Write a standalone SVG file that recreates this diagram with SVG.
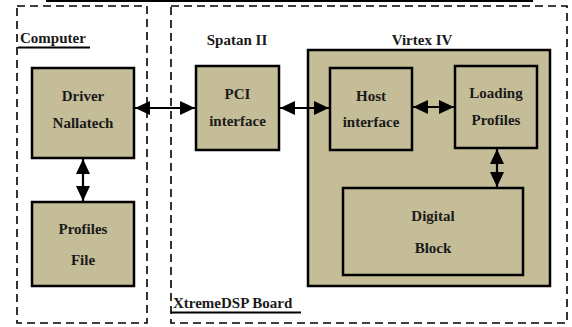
<svg xmlns="http://www.w3.org/2000/svg" width="572" height="327" viewBox="0 0 572 327">
<style>
.dash{fill:none;stroke:#000;stroke-width:1.6;stroke-dasharray:8 5}
.box{fill:#c4bd97;stroke:#000;stroke-width:2.5}
.t{font-family:"Liberation Serif",serif;font-weight:bold;font-size:15px;fill:#1a1a1a;text-anchor:middle}
.lbl{font-family:"Liberation Serif",serif;font-weight:bold;font-size:15px;fill:#1a1a1a}
.ul{stroke:#000;stroke-width:2}
.arr{stroke:#000;stroke-width:2.2;fill:none;marker-start:url(#ah);marker-end:url(#ah)}
</style>
<defs>
<marker id="ah" viewBox="0 0 15 14" refX="15" refY="7" markerWidth="15" markerHeight="14" markerUnits="userSpaceOnUse" orient="auto-start-reverse">
<path d="M0,0 L15,7 L0,14 Z" fill="#000"/>
</marker>
</defs>
<rect width="572" height="327" fill="#fff"/>
<line x1="46" y1="1" x2="533" y2="1" stroke="#000" stroke-width="2"/>
<g id="computer">
<rect class="dash" x="17" y="6" width="130" height="317"/>
<text class="lbl" x="20" y="43">Computer</text>
<line class="ul" x1="18" y1="47.5" x2="90" y2="47.5"/>
</g>
<g id="board">
<rect class="dash" x="171" y="6" width="396" height="317"/>
<text class="lbl" x="173" y="308">XtremeDSP Board</text>
<line class="ul" x1="171" y1="312.5" x2="301" y2="312.5"/>
<text class="t" x="237" y="45">Spatan II</text>
</g>
<g id="driver">
<rect class="box" x="32" y="68" width="102" height="90"/>
<text class="t" x="83" y="101">Driver</text>
<text class="t" x="83" y="128">Nallatech</text>
</g>
<g id="profiles-file">
<rect class="box" x="32" y="202" width="102" height="84"/>
<text class="t" x="83" y="234">Profiles</text>
<text class="t" x="83" y="265">File</text>
</g>
<g id="pci">
<rect class="box" x="196" y="66" width="83" height="84"/>
<text class="t" x="237.5" y="99">PCI</text>
<text class="t" x="237.5" y="126">interface</text>
</g>
<g id="virtex">
<rect class="box" x="308" y="50" width="242" height="236"/>
<text class="t" x="422" y="45">Virtex IV</text>
</g>
<g id="host">
<rect class="box" x="330" y="68" width="82" height="82"/>
<text class="t" x="371" y="101">Host</text>
<text class="t" x="371" y="127">interface</text>
</g>
<g id="loading">
<rect class="box" x="455" y="66" width="82" height="82"/>
<text class="t" x="496" y="98">Loading</text>
<text class="t" x="496" y="125">Profiles</text>
</g>
<g id="digital">
<rect class="box" x="343" y="188" width="180" height="87"/>
<text class="t" x="433" y="221">Digital</text>
<text class="t" x="433" y="253">Block</text>
</g>
<g id="connectors">
<line class="arr" x1="135" y1="108" x2="195" y2="108"/>
<line class="arr" x1="83" y1="159" x2="83" y2="201"/>
<line class="arr" x1="280" y1="108" x2="329" y2="108"/>
<line class="arr" x1="413" y1="107" x2="454" y2="107"/>
<line class="arr" x1="497" y1="149" x2="497" y2="187"/>
</g>
</svg>
